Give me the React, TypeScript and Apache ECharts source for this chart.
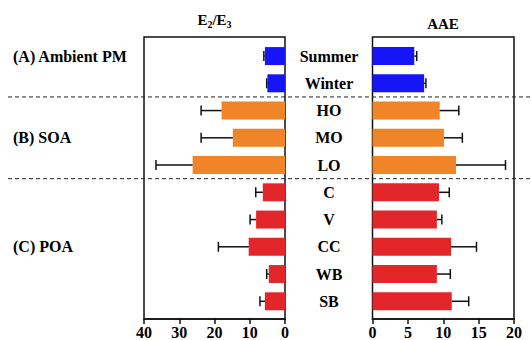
import React, { useEffect, useRef } from 'react';
import * as echarts from 'echarts';

const categories = ['Summer', 'Winter', 'HO', 'MO', 'LO', 'C', 'V', 'CC', 'WB', 'SB'];
const rowGroup = [0, 0, 1, 1, 1, 2, 2, 2, 2, 2];
const groupNames = ['(A) Ambient PM', '(B) SOA', '(C) POA'];
const groupLabelRows = [0, 3, 7];
const groupColors = ['#1515f8', '#ef8429', '#e3262a'];
const e2e3 = [5.7, 5.0, 18.0, 14.8, 26.2, 6.3, 8.2, 10.3, 4.6, 5.7];
const e2e3Err = [0.3, 0.2, 5.8, 9.0, 10.4, 2.0, 1.7, 8.6, 0.6, 1.4];
const aae = [5.9, 7.3, 9.5, 10.1, 11.8, 9.4, 9.1, 11.1, 9.1, 11.2];
const aaeErr = [0.35, 0.25, 2.7, 2.6, 7.0, 1.45, 0.7, 3.6, 1.9, 2.4];
const separatorsAt = [1.5, 4.5];

const FONT = '"Liberation Serif", "Times New Roman", serif';
const INK = '#111';

const renderBar = (params: any, api: any) => {
  const v = api.value(0);
  const idx = api.value(1);
  const err = api.value(2);
  const g = api.value(3);
  const p0 = api.coord([0, idx]);
  const p1 = api.coord([v, idx]);
  const p2 = api.coord([v + err, idx]);
  const h = api.size([0, 1])[1] * 0.66;
  const x = Math.min(p0[0], p1[0]);
  const w = Math.abs(p1[0] - p0[0]);
  return {
    type: 'group',
    children: [
      { type: 'rect', shape: { x, y: p0[1] - h / 2, width: w, height: h }, style: { fill: groupColors[g] } },
      { type: 'line', shape: { x1: p1[0], y1: p1[1], x2: p2[0], y2: p2[1] }, style: { stroke: INK, lineWidth: 1.5 } },
      { type: 'line', shape: { x1: p2[0], y1: p2[1] - 5, x2: p2[0], y2: p2[1] + 5 }, style: { stroke: INK, lineWidth: 1.5 } },
    ],
  };
};

export default function App() {
  const ref = useRef<HTMLDivElement>(null);
  useEffect(() => {
    if (!ref.current) return;
    const chart = echarts.init(ref.current, undefined, { renderer: 'svg' });
    const rows = categories.map((_, i) => i);
    const yBase = {
      type: 'value',
      min: -0.7,
      max: 9.65,
      inverse: true,
      splitLine: { show: false },
      axisLine: { show: false, onZero: false },
      axisTick: { show: false },
    };
    const xLabel = { color: '#000', fontFamily: FONT, fontWeight: 'bold', fontSize: 16, margin: 5 };
    const xCommon = {
      type: 'value',
      position: 'bottom',
      splitLine: { show: false },
      axisLine: { show: true, onZero: false, lineStyle: { color: INK, width: 1.5 } },
      axisTick: { show: true, length: 5, lineStyle: { color: INK, width: 1.5 } },
      axisLabel: xLabel,
    };
    chart.setOption({
      animation: false,
      title: [
        {
          text: 'E{sub|2}/E{sub|3}',
          left: 214.5,
          top: 9.5,
          padding: 0,
          textAlign: 'center',
          textStyle: {
            fontFamily: FONT, fontWeight: 'bold', fontSize: 15, color: '#000', lineHeight: 20,
            rich: {
              sub: { fontFamily: FONT, fontWeight: 'bold', fontSize: 10, color: '#000', lineHeight: 8, verticalAlign: 'bottom' },
            },
          },
        },
        {
          text: 'AAE',
          left: 443,
          top: 16,
          padding: 0,
          textAlign: 'center',
          textStyle: { fontFamily: FONT, fontWeight: 'bold', fontSize: 15, color: '#000', lineHeight: 15 },
        },
      ],
      grid: [
        { left: 144, width: 141, top: 37, bottom: 20, show: true, borderColor: INK, borderWidth: 1.5, backgroundColor: 'transparent' },
        { left: 372.5, width: 141.5, top: 37, bottom: 20, show: true, borderColor: INK, borderWidth: 1.5, backgroundColor: 'transparent' },
      ],
      xAxis: [
        { ...xCommon, gridIndex: 0, min: 0, max: 40, interval: 10, inverse: true },
        { ...xCommon, gridIndex: 1, min: 0, max: 20, interval: 5 },
      ],
      yAxis: [
        {
          ...yBase,
          gridIndex: 0,
          position: 'right',
          axisLabel: {
            customValues: rows,
            formatter: (v: number) => categories[Math.round(v)] ?? '',
            align: 'center',
            margin: 44,
            color: '#000', fontFamily: FONT, fontWeight: 'bold', fontSize: 16,
          },
        },
        {
          ...yBase,
          gridIndex: 0,
          position: 'left',
          axisLabel: {
            customValues: groupLabelRows,
            formatter: (v: number) => groupNames[groupLabelRows.indexOf(Math.round(v))] ?? '',
            align: 'left',
            margin: 131,
            color: '#000', fontFamily: FONT, fontWeight: 'bold', fontSize: 16,
          },
        },
        { ...yBase, gridIndex: 1, axisLabel: { show: false } },
      ],
      series: [
        {
          type: 'custom',
          xAxisIndex: 0,
          yAxisIndex: 0,
          renderItem: renderBar,
          encode: { x: 0, y: 1 },
          data: categories.map((_, i) => [e2e3[i], i, e2e3Err[i], rowGroup[i]]),
        },
        {
          type: 'custom',
          xAxisIndex: 1,
          yAxisIndex: 2,
          renderItem: renderBar,
          encode: { x: 0, y: 1 },
          data: categories.map((_, i) => [aae[i], i, aaeErr[i], rowGroup[i]]),
        },
      ],
    });
    const seps = separatorsAt.map((s, k) => {
      const y = chart.convertToPixel({ yAxisIndex: 0 } as any, s) as unknown as number;
      return {
        type: 'line',
        id: 'sep' + k,
        shape: { x1: 8, y1: y, x2: 531, y2: y },
        style: { stroke: '#222', lineWidth: 1, lineDash: [4, 3] },
        z: 10,
      };
    });
    chart.setOption({ graphic: seps });
    return () => chart.dispose();
  }, []);
  return <div ref={ref} style={{ width: 531, height: 340, position: 'absolute', left: 0, top: 0 }} />;
}
